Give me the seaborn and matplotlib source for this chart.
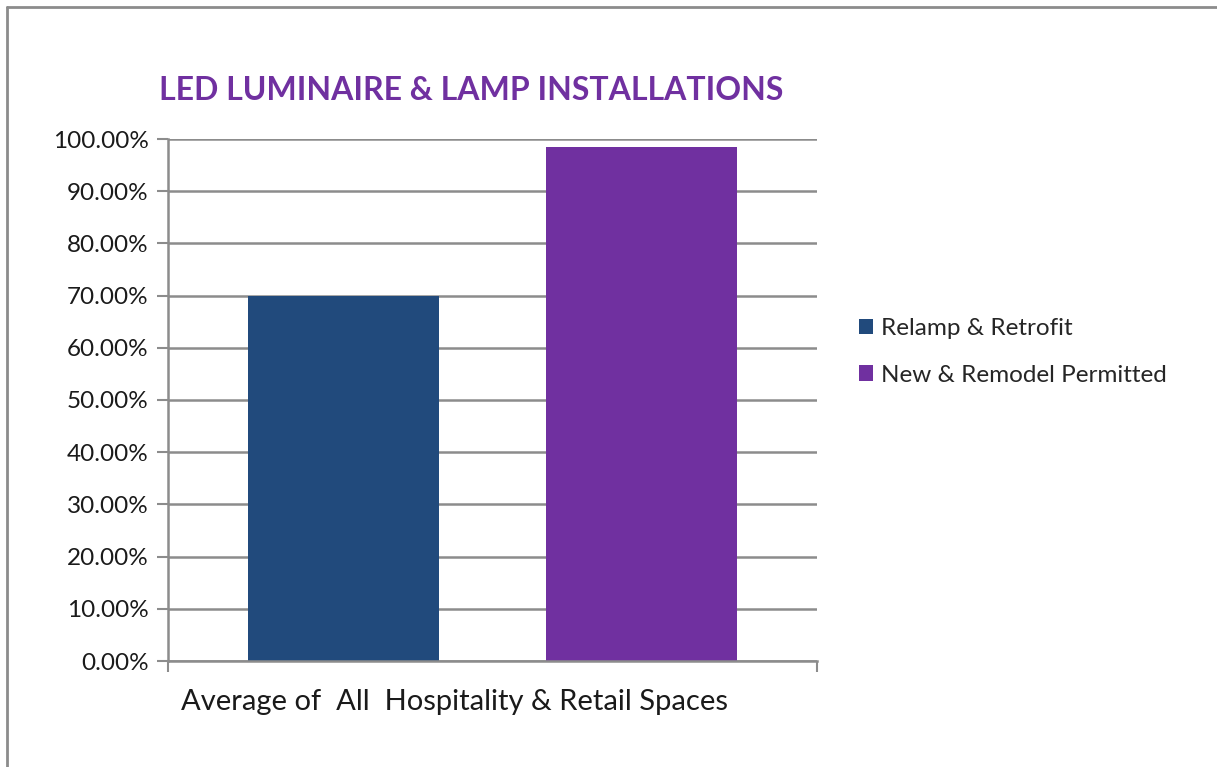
import matplotlib
matplotlib.use("Agg")
import matplotlib.pyplot as plt
import matplotlib.transforms as mtransforms
from matplotlib.lines import Line2D
from matplotlib.patches import Patch
import pandas as pd
import seaborn as sns

# data
category = ["Average of  All  Hospitality & Retail Spaces"]
series = ["Relamp & Retrofit", "New & Remodel Permitted"]
values = [0.70, 0.985]
colors = ["#214A7C", "#7030A0"]
yticks = [0.0, 0.1, 0.2, 0.3, 0.4, 0.5, 0.6, 0.7, 0.8, 0.9, 1.0]

df = pd.DataFrame({"cat": category * len(series), "series": series, "value": values})

sns.set_theme(style="white")
plt.rcParams['font.family'] = ['Lato', 'DejaVu Sans']

fig = plt.figure(figsize=(12.17, 7.67), dpi=100)
ax = fig.add_axes([168 / 1217, 1 - 661 / 767, (817 - 168) / 1217, (661 - 139) / 767])

sns.barplot(data=df, x="cat", y="value", hue="series", palette=colors,
            width=0.917, gap=0.36, legend=False, ax=ax, saturation=1, linewidth=0)

ax.set_xlim(-0.5, 0.5)
ax.set_ylim(0, 1.0)
ax.set_yticks(yticks)
ax.set_yticklabels([f"{t * 100:.2f}%" for t in yticks], fontsize=17.5, color="#1a1a1a")
ax.yaxis.grid(True, color="#8c8c8c", linewidth=1.8)
ax.set_axisbelow(True)
ax.tick_params(axis="y", direction="out", length=8, width=1.5, color="#8c8c8c", left=True, pad=6)

# category label, shifted left like the original
ax.set_xticks([0])
ax.set_xticklabels(category, fontsize=21, color="#1a1a1a")
ax.tick_params(axis="x", length=0, pad=20)
off = mtransforms.ScaledTranslation(-38 / 100, 0, fig.dpi_scale_trans)
for lbl in ax.get_xticklabels():
    lbl.set_transform(lbl.get_transform() + off)
ax.set_xticks([-0.5, 0.5], minor=True)
ax.tick_params(axis="x", which="minor", direction="out", length=8, width=1.5, color="#8c8c8c", bottom=True)

ax.set_xlabel("")
ax.set_ylabel("")
for side in ["top", "right"]:
    ax.spines[side].set_visible(False)
for side in ["left", "bottom"]:
    ax.spines[side].set_color("#8c8c8c")
    ax.spines[side].set_linewidth(1.8)

fig.text(471 / 1217, 1 - 91 / 767, "LED LUMINAIRE & LAMP INSTALLATIONS", color="#7030A0",
         fontsize=23, fontweight="bold", ha="center", va="center")

handles = [Patch(facecolor=c, edgecolor="none") for c in colors]
fig.legend(handles, series, loc="center left", bbox_to_anchor=(837 / 1217, 1 - 352 / 767),
           frameon=False, fontsize=17.5, handlelength=0.6, handleheight=0.6,
           handletextpad=0.3, labelspacing=1.05)

# outer border (top and left edges visible in the original)
fig.add_artist(Line2D([7 / 1217, 1], [1 - 7 / 767, 1 - 7 / 767], color="#8c8c8c", linewidth=2, transform=fig.transFigure))
fig.add_artist(Line2D([7 / 1217, 7 / 1217], [0, 1 - 7 / 767], color="#8c8c8c", linewidth=2, transform=fig.transFigure))

fig.savefig("out.png", dpi=100, facecolor="white")
